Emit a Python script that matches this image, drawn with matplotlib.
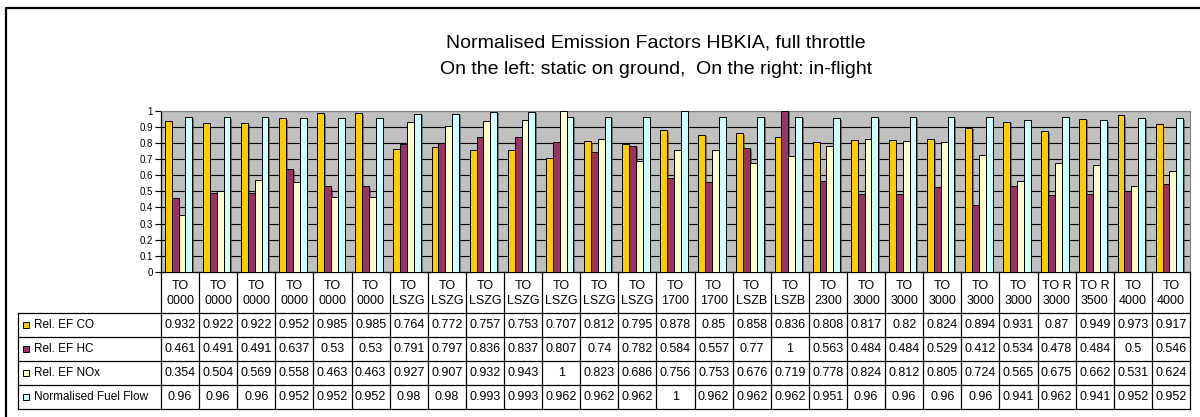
import numpy as np
import matplotlib
matplotlib.use('Agg')
import matplotlib.pyplot as plt
import matplotlib.patheffects as pe
from matplotlib.patches import Rectangle
from matplotlib.ticker import FormatStrFormatter

plt.rcParams['font.family'] = ['Liberation Sans', 'DejaVu Sans']

# ---- data ----
categories = ['TO\n0000'] * 6 + ['TO\nLSZG'] * 7 + ['TO\n1700'] * 2 + ['TO\nLSZB'] * 2 + \
             ['TO\n2300'] + ['TO\n3000'] * 5 + ['TO R\n3000', 'TO R\n3500', 'TO\n4000', 'TO\n4000']

ef_co = [0.932, 0.922, 0.922, 0.952, 0.985, 0.985, 0.764, 0.772, 0.757, 0.753, 0.707, 0.812, 0.795,
         0.878, 0.85, 0.858, 0.836, 0.808, 0.817, 0.82, 0.824, 0.894, 0.931, 0.87, 0.949, 0.973, 0.917]
ef_hc = [0.461, 0.491, 0.491, 0.637, 0.53, 0.53, 0.791, 0.797, 0.836, 0.837, 0.807, 0.74, 0.782,
         0.584, 0.557, 0.77, 1, 0.563, 0.484, 0.484, 0.529, 0.412, 0.534, 0.478, 0.484, 0.5, 0.546]
ef_nox = [0.354, 0.504, 0.569, 0.558, 0.463, 0.463, 0.927, 0.907, 0.932, 0.943, 1, 0.823, 0.686,
          0.756, 0.753, 0.676, 0.719, 0.778, 0.824, 0.812, 0.805, 0.724, 0.565, 0.675, 0.662, 0.531, 0.624]
fuel_flow = [0.96, 0.96, 0.96, 0.952, 0.952, 0.952, 0.98, 0.98, 0.993, 0.993, 0.962, 0.962, 0.962,
             1, 0.962, 0.962, 0.962, 0.951, 0.96, 0.96, 0.96, 0.96, 0.941, 0.962, 0.941, 0.952, 0.952]

series_names = ['Rel. EF CO', 'Rel. EF HC', 'Rel. EF NOx', 'Normalised Fuel Flow']
series = [ef_co, ef_hc, ef_nox, fuel_flow]
colors = ['#FFCC00', '#993366', '#FFFFCC', '#CCFFFF']

W, H = 1200, 417
fig = plt.figure(figsize=(W / 100, H / 100), dpi=100)


def px_box(x0, y0, x1, y1):
    # pixel box (top-left origin) -> figure fraction rect
    return [x0 / W, 1 - y1 / H, (x1 - x0) / W, (y1 - y0) / H]


PL, PR, PT, PB = 161, 1190, 110.5, 272
TB = 409
n = len(categories)
x = np.arange(n)

# ---- main bar chart ----
ax = fig.add_axes(px_box(PL, PT, PR, PB))
ax.set_facecolor('#C0C0C0')
bw = 0.18
shadow = [pe.SimplePatchShadow(offset=(1.2, -1.2), shadow_rgbFace='#404040', alpha=0.6), pe.Normal()]
for k, (vals, c) in enumerate(zip(series, colors)):
    ax.bar(x + (k - 1.5) * bw - 0.04, vals, width=bw, color=c, edgecolor='black', linewidth=0.7,
           path_effects=shadow, zorder=3)

ax.set_xlim(-0.5, n - 0.5)
ax.set_ylim(0, 1)
ax.set_yticks(np.arange(0, 1.01, 0.1))
ax.yaxis.set_major_formatter(FormatStrFormatter('%g'))
ax.tick_params(axis='y', direction='out', length=4, width=0.8, labelsize=7, pad=2)
ax.tick_params(axis='x', length=0, labelbottom=False)
ax.yaxis.grid(True, color='black', linewidth=0.8)
ax.set_axisbelow(True)
for s in ['top', 'right']:
    ax.spines[s].set_color('#808080')
for s in ['left', 'bottom']:
    ax.spines[s].set_color('black')
    ax.spines[s].set_linewidth(0.9)

# ---- data table ----
tax = fig.add_axes(px_box(PL, PB, PR, TB))
tax.set_xlim(-0.5, n - 0.5)
head_h, row_h = 41, 24
tax.set_ylim(head_h + 4 * row_h, 0)
tax.axis('off')
leg_left = -0.5 - (PL - 18) / ((PR - PL) / n)

lk = dict(color='black', linewidth=0.9, clip_on=False)
for i in range(n + 1):
    tax.plot([i - 0.5, i - 0.5], [0, head_h + 4 * row_h], **lk)
tax.plot([leg_left, leg_left], [head_h, head_h + 4 * row_h], **lk)
for r in range(5):
    yy = head_h + r * row_h
    tax.plot([leg_left, n - 0.5], [yy, yy], **lk)

for i, cat in enumerate(categories):
    tax.text(i, head_h / 2 + 1, cat, ha='center', va='center', fontsize=9, linespacing=1.25)
    for r, vals in enumerate(series):
        tax.text(i, head_h + (r + 0.5) * row_h, '%g' % vals[i], ha='center', va='center', fontsize=9)

unit = (PR - PL) / n
for r, (name, c) in enumerate(zip(series_names, colors)):
    yc = head_h + (r + 0.5) * row_h
    tax.add_patch(Rectangle((leg_left + 4.5 / unit, yc - 3.3), 6.5 / unit, 6.5, facecolor=c,
                            edgecolor='black', linewidth=0.7, clip_on=False))
    tax.text(leg_left + 16 / unit, yc, name, ha='left', va='center', fontsize=8.5)

# ---- title ----
fig.text(656 / W, 1 - 48 / H, 'Normalised Emission Factors HBKIA, full throttle',
         ha='center', va='baseline', fontsize=14)
fig.text(656 / W, 1 - 74 / H, 'On the left: static on ground,  On the right: in-flight',
         ha='center', va='baseline', fontsize=14)

# ---- chart frame (left and top) ----
fr = fig.add_axes([0, 0, 1, 1], zorder=-1)
fr.set_xlim(0, W)
fr.set_ylim(H, 0)
fr.axis('off')
fr.plot([6, 6, W + 5], [H + 5, 8, 8], color='black', linewidth=1.6)

fig.savefig('out.png', dpi=100)
